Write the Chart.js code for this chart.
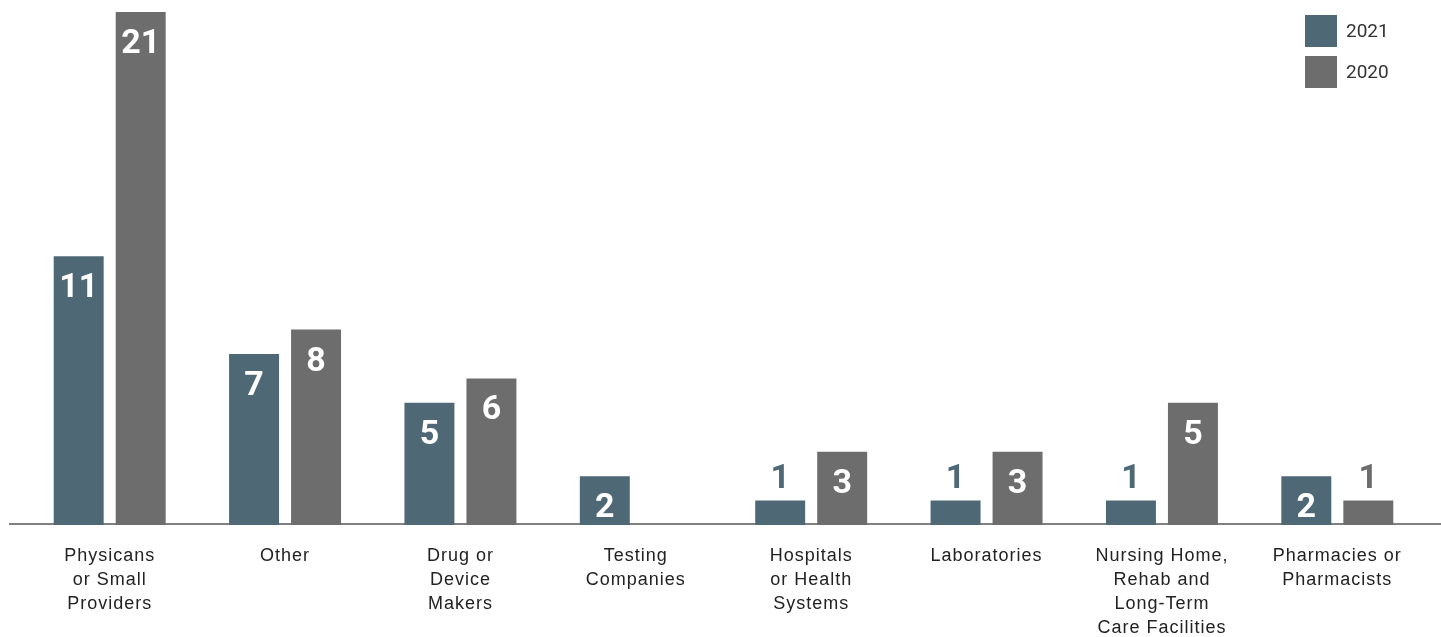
<!DOCTYPE html>
<html>
<head>
<meta charset="utf-8">
<script src="https://cdn.jsdelivr.net/npm/chart.js@4"></script>
<style>
  body { margin: 0; background: #fff; }
  #wrap { width: 1441px; height: 637px; position: relative; }
</style>
</head>
<body>
<div id="wrap"><canvas id="barChart"></canvas></div>
<script>
// category labels (multi-line, as printed under each group)
const categories = [
  ['Physicans', 'or Small', 'Providers'],
  ['Other'],
  ['Drug or', 'Device', 'Makers'],
  ['Testing', 'Companies'],
  ['Hospitals', 'or Health', 'Systems'],
  ['Laboratories'],
  ['Nursing Home,', 'Rehab and', 'Long-Term', 'Care Facilities'],
  ['Pharmacies or', 'Pharmacists']
];
const seriesNames = ['2021', '2020'];
const values2021 = [11, 7, 5, 2, 1, 1, 1, 2];
const values2020 = [21, 8, 6, null, 3, 3, 5, 1];

const colors = ['#4f6875', '#6e6d6e'];

// wider tracking for the axis labels only (scales draw before the bars)
const tickSpacing = {
  id: 'tickSpacing',
  beforeDraw(chart) { chart.ctx.letterSpacing = '1px'; },
  beforeDatasetsDraw(chart) { chart.ctx.letterSpacing = '0px'; }
};

// draws the number on each bar: white inside tall bars, bar-coloured above short ones
const barLabels = {
  id: 'barLabels',
  afterDatasetsDraw(chart) {
    const ctx = chart.ctx;
    ctx.save();
    ctx.font = 'bold 34px Roboto';
    ctx.textAlign = 'center';
    ctx.textBaseline = 'alphabetic';
    chart.data.datasets.forEach((ds, i) => {
      const meta = chart.getDatasetMeta(i);
      meta.data.forEach((bar, j) => {
        const v = ds.data[j];
        if (v === null || v === undefined) return;
        const h = bar.base - bar.y;
        if (h >= 40) {
          ctx.fillStyle = '#ffffff';
          ctx.fillText(String(v), bar.x, bar.y + 41);
        } else {
          ctx.fillStyle = ds.backgroundColor;
          ctx.fillText(String(v), bar.x, bar.y - 13);
        }
      });
    });
    ctx.restore();
  }
};

// baseline across the full width
const baseLine = {
  id: 'baseLine',
  beforeDatasetsDraw(chart) {
    const ctx = chart.ctx;
    const y = chart.chartArea.bottom;
    ctx.save();
    ctx.strokeStyle = '#808080';
    ctx.lineWidth = 2;
    ctx.beginPath();
    ctx.moveTo(9, y - 1);
    ctx.lineTo(chart.width, y - 1);
    ctx.stroke();
    ctx.restore();
  }
};

// legend boxes in the top right corner
const cornerLegend = {
  id: 'cornerLegend',
  afterDraw(chart) {
    const ctx = chart.ctx;
    ctx.save();
    ctx.font = '19px Roboto';
    ctx.textBaseline = 'middle';
    ctx.textAlign = 'left';
    chart.data.datasets.forEach((ds, i) => {
      const top = 15 + i * 41;
      ctx.fillStyle = ds.backgroundColor;
      ctx.fillRect(1305, top, 32, 32);
      ctx.fillStyle = '#333333';
      ctx.fillText(ds.label, 1346, top + 17);
    });
    ctx.restore();
  }
};

const ctx = document.getElementById('barChart').getContext('2d');
new Chart(ctx, {
  type: 'bar',
  data: {
    labels: categories,
    datasets: [
      { label: seriesNames[0], data: values2021, backgroundColor: colors[0] },
      { label: seriesNames[1], data: values2020, backgroundColor: colors[1] }
    ]
  },
  options: {
    responsive: true,
    maintainAspectRatio: false,
    animation: false,
    categoryPercentage: 0.707,
    barPercentage: 0.806,
    layout: { padding: { left: 22, right: 16, top: 12, bottom: 0 } },
    plugins: {
      legend: { display: false },
      tooltip: { enabled: false }
    },
    scales: {
      x: {
        grid: { display: false, drawTicks: false },
        border: { display: false },
        ticks: {
          color: '#222222',
          padding: 19,
          maxRotation: 0,
          autoSkip: false,
          font: { family: 'Liberation Sans', size: 18, lineHeight: 1.33 }
        },
        afterFit(scale) { scale.height = 112; }
      },
      y: {
        display: false,
        min: 0,
        max: 21
      }
    }
  },
  plugins: [tickSpacing, baseLine, barLabels, cornerLegend]
});
</script>
</body>
</html>
